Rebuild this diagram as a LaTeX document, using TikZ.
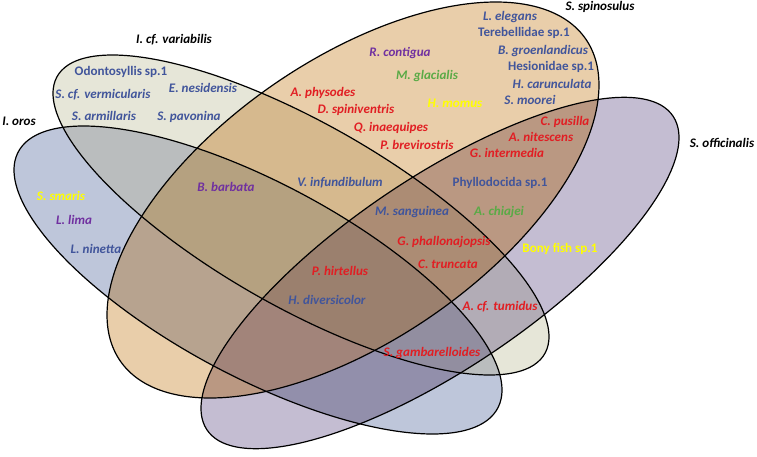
\documentclass[tikz,border=0pt]{standalone}
\usepackage{fontspec}
\setmainfont{Carlito}
\definecolor{cV}{RGB}{230,230,216}
\definecolor{cO}{RGB}{190,198,218}
\definecolor{cS}{RGB}{233,206,170}
\definecolor{cF}{RGB}{196,189,210}
\definecolor{cVO}{RGB}{186,189,190}
\definecolor{cVS}{RGB}{214,185,142}
\definecolor{cVF}{RGB}{178,172,182}
\definecolor{cOS}{RGB}{183,163,143}
\definecolor{cOF}{RGB}{146,143,171}
\definecolor{cSF}{RGB}{186,152,130}
\definecolor{cVOS}{RGB}{181,161,128}
\definecolor{cVOF}{RGB}{146,142,160}
\definecolor{cVSF}{RGB}{172,140,116}
\definecolor{cOSF}{RGB}{162,132,122}
\definecolor{cVOSF}{RGB}{155,128,110}
\definecolor{tblue}{RGB}{65,85,155}
\definecolor{tred}{RGB}{225,30,35}
\definecolor{tpurple}{RGB}{112,48,160}
\definecolor{tgreen}{RGB}{90,170,70}
\definecolor{tyellow}{RGB}{255,255,0}
\newcommand\fsz{\fontsize{9.8pt}{11pt}\selectfont}
\def\shV{plot[domain=0:357.5,samples=144,smooth cycle,variable=\t] ({301+248*cos(\t)},{215+160*cos(\t+40.5)})}
\def\shO{plot[domain=0:357.5,samples=144,smooth cycle,variable=\t] ({258+244*cos(\t)},{280+154*cos(\t+44.4)})}
\def\shS{plot[domain=0:357.5,samples=144,smooth cycle,variable=\t] ({353+246*cos(\t)},{200+198*cos(\t+125.5)})}
\def\shF{plot[domain=0:357.5,samples=144,smooth cycle,variable=\t] ({440+239*cos(\t)},{273+175.7*cos(\t+140.4)})}
\tikzset{
  sp/.style={font=\fsz\bfseries\itshape, inner sep=0pt},
  up/.style={font=\fsz\bfseries, inner sep=0pt},
  outline/.style={draw=black, line width=0.9pt}
}
\begin{document}
\begin{tikzpicture}[x=0.75pt,y=-0.75pt]
\useasboundingbox (0,0) rectangle (757,457);
% singles
\fill[cO] \shO; \fill[cV] \shV; \fill[cS] \shS; \fill[cF] \shF;
% pairs
\begin{scope}\clip \shV; \fill[cVO] \shO; \end{scope}
\begin{scope}\clip \shV; \fill[cVS] \shS; \end{scope}
\begin{scope}\clip \shV; \fill[cVF] \shF; \end{scope}
\begin{scope}\clip \shO; \fill[cOS] \shS; \end{scope}
\begin{scope}\clip \shO; \fill[cOF] \shF; \end{scope}
\begin{scope}\clip \shS; \fill[cSF] \shF; \end{scope}
% triples
\begin{scope}\clip \shV; \clip \shO; \fill[cVOS] \shS; \end{scope}
\begin{scope}\clip \shV; \clip \shO; \fill[cVOF] \shF; \end{scope}
\begin{scope}\clip \shV; \clip \shS; \fill[cVSF] \shF; \end{scope}
\begin{scope}\clip \shO; \clip \shS; \fill[cOSF] \shF; \end{scope}
% quad
\begin{scope}\clip \shV; \clip \shO; \clip \shS; \fill[cVOSF] \shF; \end{scope}
% outlines
\draw[outline] \shO; \draw[outline] \shV; \draw[outline] \shS; \draw[outline] \shF;
% set names
\node[sp] (nV) at (174,40) {I. cf. variabilis};
\node[sp] (nO) at (19,121) {I. oros};
\node[sp] (nS) at (600,7) {S. spinosulus};
\node[sp] (nF) at (722,143) {S. officinalis};
% V only
\node[up,tblue] (a1) at (121,72) {Odontosyllis sp.1};
\node[sp,tblue] (a2) at (103,95) {S. cf. vermicularis};
\node[sp,tblue] (a3) at (203,88) {E. nesidensis};
\node[sp,tblue] (a4) at (104,116) {S. armillaris};
\node[sp,tblue] (a5) at (189,117) {S. pavonina};
% S only
\node[sp,tpurple] (b1) at (400,53) {R. contigua};
\node[sp,tgreen] (b2) at (427,76) {M. glacialis};
\node[sp,tyellow] (b3) at (455,103) {H. momus};
\node[sp,tred] (b4) at (323,93) {A. physodes};
\node[sp,tred] (b5) at (356,110) {D. spiniventris};
\node[sp,tred] (b6) at (391,128) {Q. inaequipes};
\node[sp,tred] (b7) at (417,145) {P. brevirostris};
\node[sp,tblue] (b8) at (510,17) {L. elegans};
\node[up,tblue] (b9) at (524,33) {Terebellidae sp.1};
\node[sp,tblue] (b10) at (543,51) {B. groenlandicus};
\node[up,tblue] (b11) at (551,67) {Hesionidae sp.1};
\node[sp,tblue] (b12) at (552,84) {H. carunculata};
\node[sp,tblue] (b13) at (530,100) {S. moorei};
% S and F
\node[sp,tred] (c1) at (565,122) {C. pusilla};
\node[sp,tred] (c2) at (541,137) {A. nitescens};
\node[sp,tred] (c3) at (507,153) {G. intermedia};
\node[up,tblue] (c4) at (500,183) {Phyllodocida sp.1};
\node[sp,tgreen] (c5) at (499,212) {A. chiajei};
% others
\node[sp,tblue] (d1) at (412,212) {M. sanguinea};
\node[sp,tred] (d2) at (444,242) {G. phallonajopsis};
\node[sp,tred] (d3) at (448,264) {C. truncata};
\node[up,tyellow] (d4) at (560,249) {Bony fish sp.1};
\node[sp,tred] (d5) at (500,307) {A. cf. tumidus};
\node[sp,tblue] (d6) at (340,183) {V. infundibulum};
\node[sp,tred] (d7) at (340,271) {P. hirtellus};
\node[sp,tblue] (d8) at (327,300) {H. diversicolor};
\node[sp,tred] (d9) at (432,353) {S. gambarelloides};
\node[sp,tpurple] (d10) at (226,187) {B. barbata};
% O only
\node[sp,tyellow] (e1) at (61,196) {S. smaris};
\node[sp,tpurple] (e2) at (74,220) {L. lima};
\node[sp,tblue] (e3) at (96,249) {L. ninetta};
\end{tikzpicture}
\end{document}
